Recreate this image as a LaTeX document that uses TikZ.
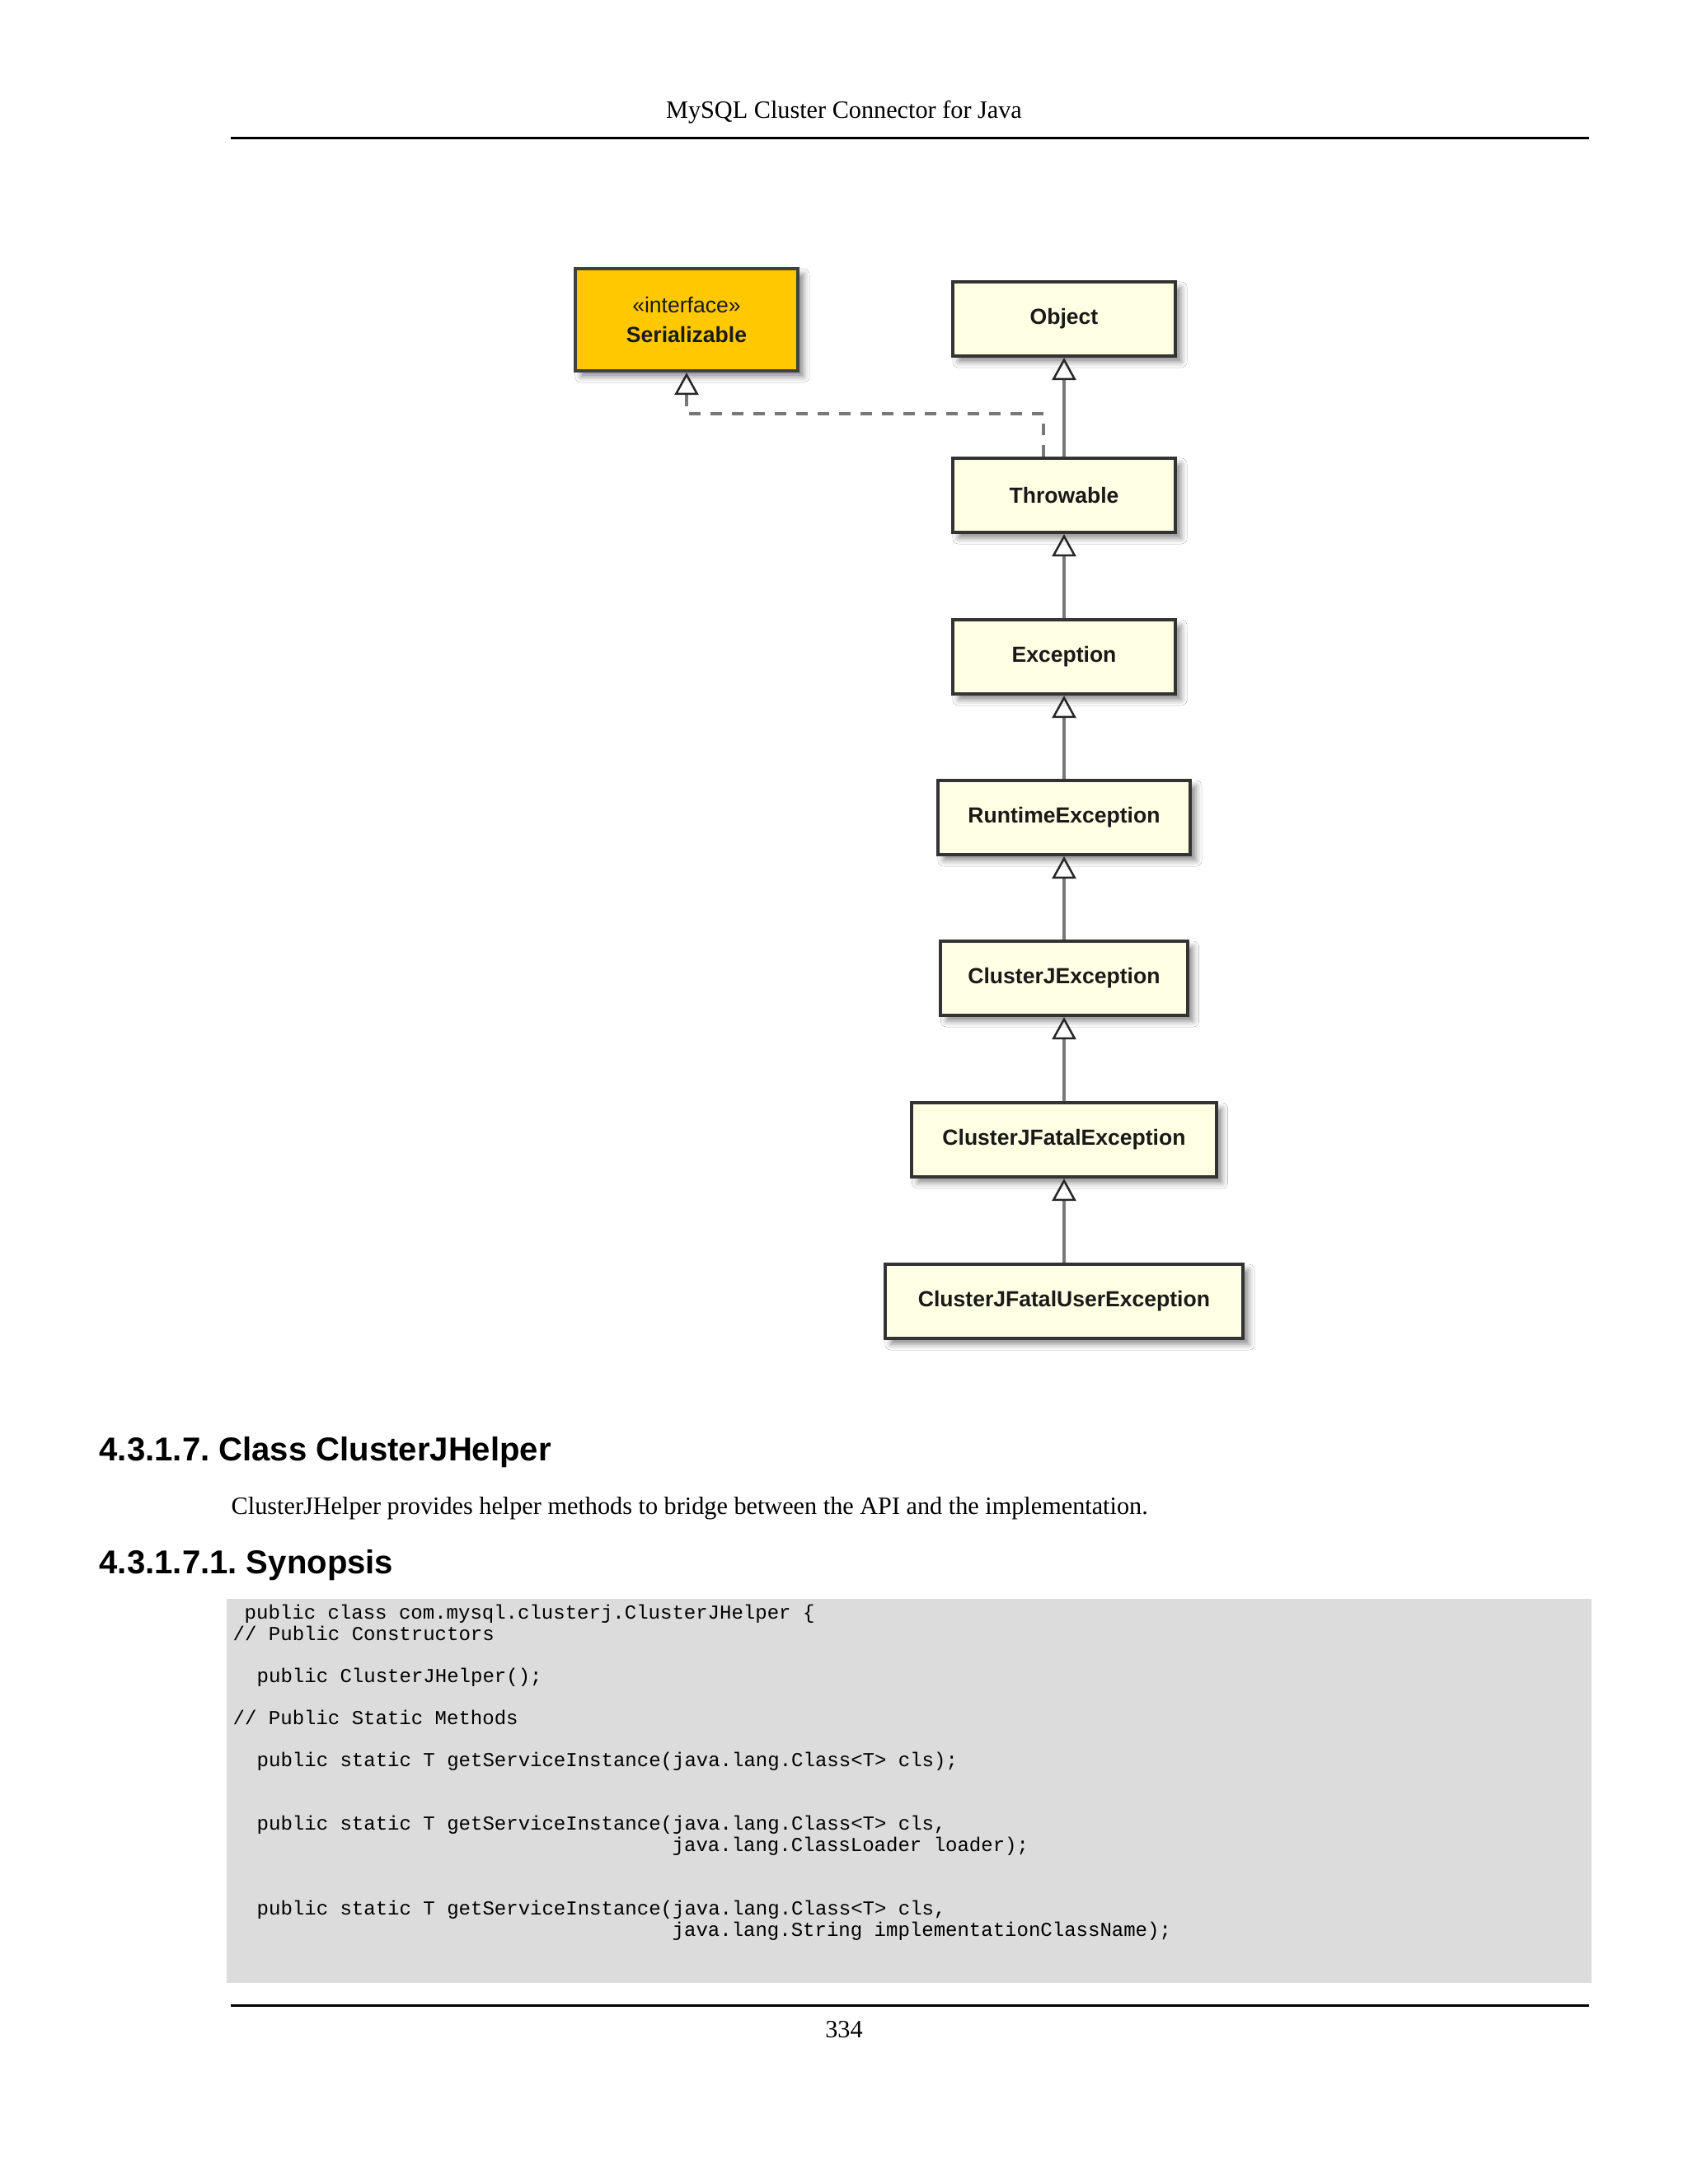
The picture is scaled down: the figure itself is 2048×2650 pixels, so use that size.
\documentclass[tikz,border=0pt]{standalone}
\usepackage{fontspec}
\setmainfont{Liberation Serif}
\setsansfont{Liberation Sans}
\setmonofont[WordSpace={1,0,0}]{Liberation Mono}
\usetikzlibrary{arrows.meta,shadows.blur}
\definecolor{boxfill}{HTML}{FFFFE3}
\definecolor{ifill}{HTML}{FFC800}
\definecolor{codebg}{HTML}{DDDCDC}
\definecolor{conn}{HTML}{787878}
\frenchspacing
\begin{document}
\begin{tikzpicture}[x=0.01cm,y=-0.01cm,
  cls/.style={draw=black!80, line width=0.04cm, fill=boxfill, minimum height=0.9cm,
    inner sep=0pt, text=black!90,
    font=\sffamily\bfseries\fontsize{7.55pt}{10.2pt}\selectfont,
    blur shadow={shadow xshift=0.07cm, shadow yshift=-0.07cm, shadow blur radius=0.07cm, shadow opacity=45}},
  gen/.style={draw=conn, line width=0.04cm,
    -{Triangle[open, width=0.29cm, length=0.27cm, line width=0.025cm, color=black!85]}},
  real/.style={gen, dash pattern=on 0.14cm off 0.12cm},
  serif/.style={inner sep=0pt, font=\fontsize{8.6pt}{10pt}\selectfont},
  head/.style={inner sep=0pt, anchor=base west, font=\sffamily\bfseries\fontsize{11.4pt}{13pt}\selectfont},
  code/.style={inner sep=0pt, anchor=base west, font=\ttfamily\fontsize{6.83pt}{7.3pt}\selectfont}]
\useasboundingbox (0,0) rectangle (2048,2650);
\fill[white] (0,0) rectangle (2048,2650);

% page header / footer
\node[serif, anchor=base] (hdr) at (1024,143) {MySQL Cluster Connector for Java};
\draw[line width=0.03cm] (280,167) -- (1928,167);
\draw[line width=0.03cm] (280,2433) -- (1928,2433);
\node[serif, anchor=base] (pg) at (1024,2472) {334};

% class boxes
\node[cls, fill=ifill, draw=black!75, minimum width=2.7cm, minimum height=1.24cm, align=center]
  (ser) at (833,388) {{\mdseries «interface»}\\Serializable};
\node[cls, minimum width=2.7cm] (obj) at (1291,387) {Object};
\node[cls, minimum width=2.7cm] (thr) at (1291,601) {Throwable};
\node[cls, minimum width=2.7cm] (exc) at (1291,797) {Exception};
\node[cls, minimum width=3.06cm] (rte) at (1291,992) {RuntimeException};
\node[cls, minimum width=2.99cm] (cje) at (1291,1187) {ClusterJException};
\node[cls, minimum width=3.69cm] (cjfe) at (1291,1383) {ClusterJFatalException};
\node[cls, minimum width=4.34cm] (cjfue) at (1291,1579) {ClusterJFatalUserException};

% generalizations
\draw[gen] (thr.north) -- (obj.south);
\draw[gen] (exc.north) -- (thr.south);
\draw[gen] (rte.north) -- (exc.south);
\draw[gen] (cje.north) -- (rte.south);
\draw[gen] (cjfe.north) -- (cje.south);
\draw[gen] (cjfue.north) -- (cjfe.south);
% realization
\coordinate (bend) at (833,502);
\draw[real] ([xshift=-0.25cm]thr.north) |- (bend) -- (ser.south);

% section text
\node[head] (h1) at (120,1772) {4.3.1.7. Class ClusterJHelper};
\node[serif, anchor=base west] (desc) at (280,1837) {ClusterJHelper provides helper methods to bridge between the API and the implementation.};
\node[head] (h2) at (120,1909) {4.3.1.7.1. Synopsis};

% code block
\fill[codebg] (275,1940) rectangle (1931,2406);
\node[code] (c1) at (296,1964) {public class com.mysql.clusterj.ClusterJHelper \{};
\node[code] (c2) at (282,1990) {// Public Constructors};
\node[code] (c3) at (311,2041) {public ClusterJHelper();};
\node[code] (c4) at (282,2092) {// Public Static Methods};
\node[code] (c5) at (311,2143) {public static T getServiceInstance(java.lang.Class<T> cls);};
\node[code] (c6) at (311,2220) {public static T getServiceInstance(java.lang.Class<T> cls,};
\node[code] (c7) at (815,2246) {java.lang.ClassLoader loader);};
\node[code] (c8) at (311,2323) {public static T getServiceInstance(java.lang.Class<T> cls,};
\node[code] (c9) at (815,2349) {java.lang.String implementationClassName);};
\end{tikzpicture}
\end{document}
